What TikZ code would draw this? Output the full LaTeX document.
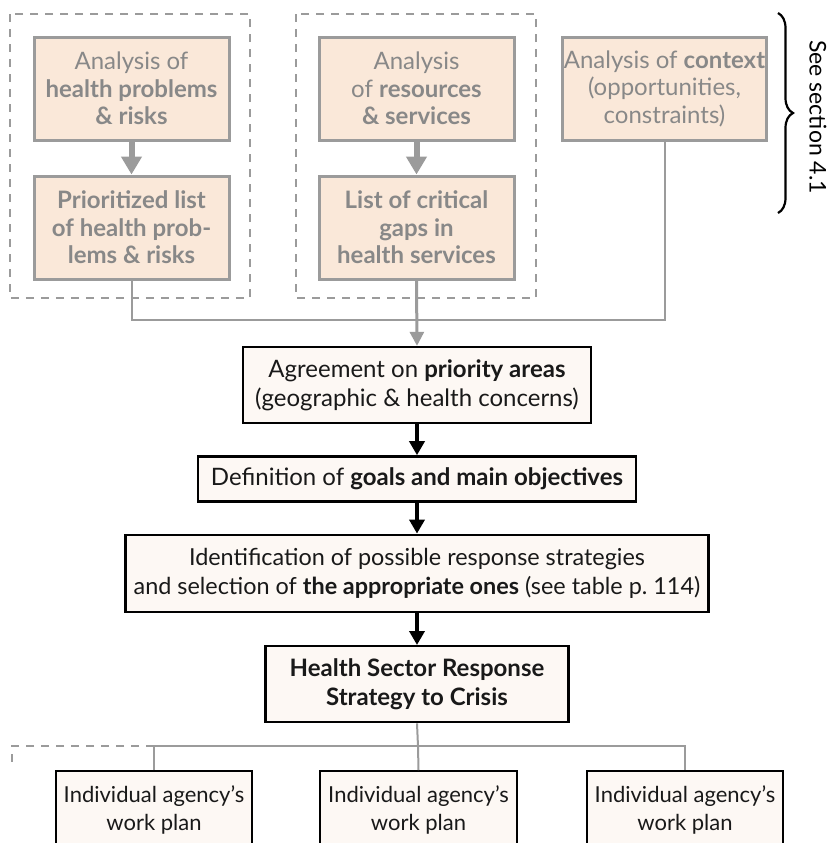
\documentclass[tikz,border=0pt]{standalone}
\usepackage{fontspec}
\setmainfont{Lato}
\usepackage{xcolor}
\usetikzlibrary{arrows.meta,positioning,decorations.pathreplacing}
\definecolor{peach}{HTML}{FAE8D9}
\definecolor{cream}{HTML}{FDF8F4}
\definecolor{frame}{HTML}{9B9B9B}
\definecolor{greytxt}{HTML}{888888}

\begin{document}
\begin{tikzpicture}[x=0.5pt,y=-0.5pt,
  font=\fontsize{12}{14.5}\selectfont,
  gbx/.style={draw=frame,line width=1.5pt,fill=peach,text=greytxt,align=center,
    font=\fontsize{12}{13.75}\selectfont,
    minimum width=#1,minimum height=51.5pt,inner xsep=0.5pt,inner ysep=2pt},
  gbx/.default=97.5pt,
  kbx/.style={draw=black,line width=1.2pt,fill=cream,text=black!90,align=center,
    minimum width=#1,inner sep=3pt},
  plan/.style={kbx=98pt,anchor=north,inner ysep=7pt,font=\fontsize{11}{14}\selectfont},
  grp/.style={draw=frame,line width=1pt,dash pattern=on 4pt off 3.5pt},
  lnk/.style={draw=frame,line width=1pt},
  garr/.style={draw=frame,line width=3pt,-{Triangle[width=10pt,length=9pt]}},
  jarr/.style={draw=frame,line width=1.5pt,-{Triangle[width=7pt,length=7pt]}},
  karr/.style={draw=black,line width=2pt,-{Triangle[width=7.5pt,length=7pt]}}]
  \useasboundingbox (0,0) rectangle (830,843);
  \clip (0,0) rectangle (830,843);

  % analysis groups
  \draw[grp] (10,14) rectangle (250,298);
  \draw[grp] (296,14) rectangle (536,298);
  \node[gbx] (a1) at (131.5,88.5) {Analysis of\\\textbf{health problems}\\\textbf{\& risks}};
  \node[gbx,below=16.5pt of a1] (a2) {\textbf{Prioritized list}\\\textbf{of health prob-}\\\textbf{lems \& risks}};
  \node[gbx] (b1) at (416.5,88.5) {Analysis\\of \textbf{resources}\\\textbf{\& services}};
  \node[gbx,below=16.5pt of b1] (b2) {\textbf{List of critical}\\\textbf{gaps in}\\\textbf{health services}};
  \node[gbx=101.5pt] (c) at (664.5,88.5) {Analysis of \textbf{context}\\(opportunities,\\constraints)};
  \draw[garr] (a1) -- (a2);
  \draw[garr] (b1) -- (b2);

  % see section brace
  \coordinate (bt) at (778,13);
  \coordinate (bb) at (778,213);
  \draw[line width=1.1pt,decorate,decoration={brace,amplitude=7.5pt}] (bt) -- (bb);
  \node[rotate=-90,font=\fontsize{11.5}{14}\selectfont] (sec) at (818,117) {See section 4.1};

  % main chain
  \node[kbx=174pt,minimum height=38pt] (d) at (417,385) {Agreement on \textbf{priority areas}\\(geographic \& health concerns)};
  \node[kbx=219pt,minimum height=22.5pt,below=15.5pt of d] (e) {Definition of \textbf{goals and main objectives}};
  \node[kbx=291.5pt,minimum height=38.5pt,below=15.5pt of e,font=\fontsize{11.7}{14.5}\selectfont] (f) {Identification of possible response strategies\\and selection of \textbf{the appropriate ones} (see table p.~114)};
  \node[kbx=151.5pt,minimum height=38pt,below=16pt of f] (g) {\textbf{Health Sector Response}\\\textbf{Strategy to Crisis}};

  \coordinate (join) at (417,320);
  \draw[lnk] (a2.south) |- (join);
  \draw[lnk] (c.south) |- (join);
  \draw[jarr] (b2.south) -- (d.north);
  \draw[karr] (d) -- (e);
  \draw[karr] (e) -- (f);
  \draw[karr] (f) -- (g);

  % agency work plans
  \node[plan] (h1) at (154,770) {Individual agency’s\\work plan};
  \node[plan,minimum width=98.5pt] (h2) at (418.5,770) {Individual agency’s\\work plan};
  \node[plan] (h3) at (685,770) {Individual agency’s\\work plan};

  \coordinate (split) at (418,746);
  \coordinate (more) at (12,768);
  \draw[lnk] (g.south) -- (split);
  \draw[lnk] (h1.north) |- (split) -| (h3.north);
  \draw[lnk] (split) -- (h2.north);
  \draw[grp] (h1.north |- split) -| (more);
\end{tikzpicture}
\end{document}
